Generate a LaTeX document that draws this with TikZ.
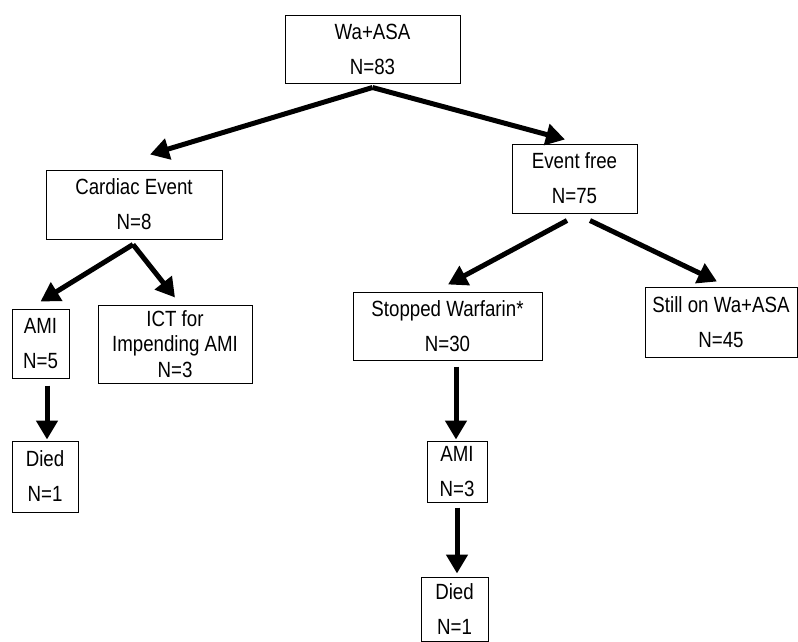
\documentclass[tikz,border=0pt]{standalone}
\usepackage{fontspec}
\setmainfont[FakeStretch=0.85]{Liberation Sans}
\usetikzlibrary{arrows.meta}
\begin{document}
\begin{tikzpicture}[x=1pt,y=-1pt,
  box/.style={draw, line width=1pt, inner sep=0pt, align=center,
    font=\fontsize{22pt}{35pt}\selectfont},
  arr/.style={line width=5pt, -{Triangle[length=19pt,width=21pt]}}]
\useasboundingbox (0,0) rectangle (798,641);
\node[box, minimum width=175pt, minimum height=68pt] (top) at (372.5,49) {Wa+ASA\\N=83};
\node[box, minimum width=176pt, minimum height=69pt] (cardiac) at (134,204.5) {Cardiac Event\\N=8};
\node[box, minimum width=125pt, minimum height=69pt] (evfree) at (574.5,178.5) {Event free\\N=75};
\node[box, minimum width=57pt, minimum height=69pt] (ami1) at (40.5,343.5) {AMI\\N=5};
\node[box, minimum width=154pt, minimum height=78pt, font=\fontsize{22pt}{25pt}\selectfont] (ict) at (175,344) {ICT for\\Impending AMI\\[1pt]N=3};
\node[box, minimum width=66pt, minimum height=71pt] (died1) at (45,476.5) {Died\\N=1};
\node[box, minimum width=189pt, minimum height=68pt] (stopped) at (447.5,326) {Stopped Warfarin*\\N=30};
\node[box, minimum width=152pt, minimum height=70pt] (still) at (721,322) {Still on Wa+ASA\\N=45};
\node[box, minimum width=60pt, minimum height=61pt] (ami2) at (457,471.5) {AMI\\N=3};
\node[box, minimum width=67pt, minimum height=64pt] (died2) at (454.5,609) {Died\\N=1};

\draw[arr] ([yshift=-4pt]top.south) -- ([shift={(16pt,15pt)}]cardiac.north);
\draw[arr] ([yshift=-4pt]top.south) -- ([shift={(-9.5pt,4pt)}]evfree.north);
\draw[arr] ([shift={(-1pt,-5pt)}]cardiac.south) -- ([yshift=7pt]ami1.north);
\draw[arr] ([shift={(-1pt,-5pt)}]cardiac.south) -- ([yshift=7pt]ict.north);
\draw[arr] ([shift={(6.5pt,-7pt)}]ami1.south) -- ([shift={(2pt,1pt)}]died1.north);
\draw[arr] ([shift={(-7.5pt,-7pt)}]evfree.south) -- ([shift={(0.5pt,7pt)}]stopped.north);
\draw[arr] ([shift={(15.5pt,-7pt)}]evfree.south) -- ([shift={(-4pt,5pt)}]still.north);
\draw[arr] ([shift={(8.5pt,-6pt)}]stopped.south) -- ([shift={(-1pt,1pt)}]ami2.north);
\draw[arr] ([yshift=-5pt]ami2.south) -- ([shift={(2.5pt,3pt)}]died2.north);
\end{tikzpicture}
\end{document}
